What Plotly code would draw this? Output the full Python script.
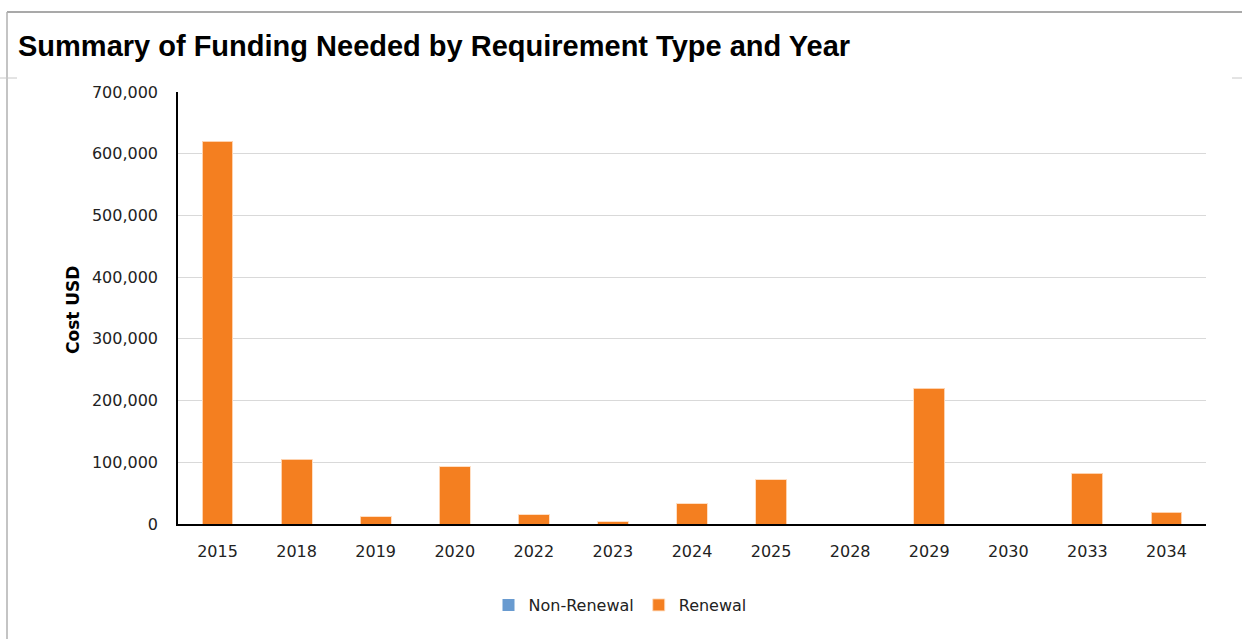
import plotly.graph_objects as go

years = ["2015", "2018", "2019", "2020", "2022", "2023", "2024", "2025", "2028", "2029", "2030", "2033", "2034"]
non_renewal = [0, 0, 0, 0, 0, 0, 0, 0, 0, 0, 0, 0, 0]
renewal = [620000, 105000, 12000, 93000, 15000, 4000, 33000, 72000, 0, 220000, 0, 82000, 19000]
y_ticks = [0, 100000, 200000, 300000, 400000, 500000, 600000, 700000]

W, H = 1242, 639
L, R, T, B = 178, 1206, 92, 524

def px(x):
    return (x - L) / (R - L)

def py(y):
    return (B - y) / (B - T)

fig = go.Figure()
fig.add_trace(go.Bar(x=years, y=non_renewal, name="Non-Renewal",
                     marker=dict(color="#699BD0", line=dict(width=0))))
fig.add_trace(go.Bar(x=years, y=renewal, name="Renewal",
                     marker=dict(color="#F47F20", line=dict(color="rgba(255,220,190,0.9)", width=1))))

shapes = [
    dict(type="line", xref="paper", yref="paper", x0=px(7), x1=px(1242), y0=py(12), y1=py(12),
         line=dict(color="#8c8c8c", width=1.5)),
    dict(type="line", xref="paper", yref="paper", x0=px(7), x1=px(7), y0=py(12), y1=py(639),
         line=dict(color="#b0b0b0", width=1.5)),
    dict(type="line", xref="paper", yref="paper", x0=px(0), x1=px(17), y0=py(78), y1=py(78),
         line=dict(color="#c8c8c8", width=1)),
    dict(type="line", xref="paper", yref="paper", x0=px(1232), x1=px(1242), y0=py(78), y1=py(78),
         line=dict(color="#c8c8c8", width=1)),
]

fig.update_layout(
    width=W, height=H,
    margin=dict(l=L, r=W - R, t=T, b=H - B, pad=0),
    paper_bgcolor="white", plot_bgcolor="white",
    barmode="stack", bargap=0.61,
    font=dict(family="DejaVu Sans", size=16, color="#222222"),
    title=dict(text="<b>Summary of Funding Needed by Requirement Type and Year</b>",
               x=18 / W, xanchor="left", xref="container",
               y=1 - 46 / H, yanchor="middle", yref="container",
               font=dict(family="Liberation Sans, Arial", size=29, color="#000000")),
    xaxis=dict(type="category", showgrid=False, showline=True, linecolor="#000000", linewidth=1.5,
               ticks="", ticklabelstandoff=12, tickfont=dict(size=16, color="#222222")),
    yaxis=dict(range=[0, 700000], tickvals=y_ticks, tickformat=",d",
               showgrid=True, gridcolor="#d9d9d9", gridwidth=1,
               showline=True, linecolor="#000000", linewidth=1.5, zeroline=False,
               ticks="", ticklabelstandoff=15, tickfont=dict(size=16, color="#222222")),
    legend=dict(orientation="h", x=px(620), xanchor="center", y=py(605), yanchor="middle",
                font=dict(size=16, color="#222222"), itemwidth=30, traceorder="normal"),
    shapes=shapes,
    annotations=[dict(text="<b>Cost USD</b>", textangle=-90, xref="paper", yref="paper",
                      x=px(73), y=py(310), xanchor="center", yanchor="middle", showarrow=False,
                      font=dict(family="DejaVu Sans", size=17, color="#000000"))],
)

fig.write_html("out.html")
